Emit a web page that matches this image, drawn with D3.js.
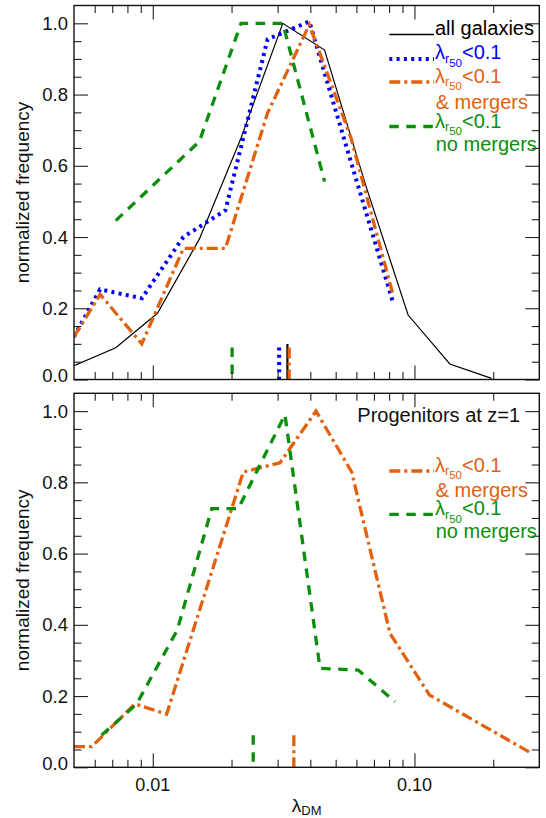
<!DOCTYPE html>
<html><head><meta charset="utf-8">
<script src="https://cdn.jsdelivr.net/npm/d3@7"></script>
<style>
html,body{margin:0;padding:0;background:#fff;}
svg{display:block;}
text{font-family:"Liberation Sans",Arial,Helvetica,sans-serif;}
</style></head><body>
<svg id="chart" width="546" height="818"></svg>
<script>
// ---------------- data ----------------
const xMajorTicks = [0.01, 0.1];
const xTickLabels = ["0.01", "0.10"];
const xMinorTicks = [0.006, 0.007, 0.008, 0.009, 0.02, 0.03, 0.04, 0.05, 0.06, 0.07, 0.08, 0.09, 0.2];
const yMajorTicks = [0, 0.2, 0.4, 0.6, 0.8, 1.0];
const yTickLabels = ["0.0", "0.2", "0.4", "0.6", "0.8", "1.0"];
const yMinorTicks = [0.05, 0.1, 0.15, 0.25, 0.3, 0.35, 0.45, 0.5, 0.55, 0.65, 0.7, 0.75, 0.85, 0.9, 0.95];

// top panel (z=0)
const topAllBins = [0.00500, 0.00722, 0.01042, 0.01506, 0.02174, 0.03139, 0.04535, 0.06546, 0.09458, 0.1365, 0.1971];
const topAll     = [0.039, 0.089, 0.186, 0.394, 0.678, 1.0, 0.925, 0.54, 0.181, 0.0435, 0.003];
const topLowBins = [0.00500, 0.00629, 0.00908, 0.01309, 0.01895, 0.02745, 0.03965, 0.05723, 0.08254];
const topLow     = [0.12, 0.253, 0.228, 0.40, 0.475, 0.955, 1.005, 0.61, 0.22];
const topMerg    = [0.12, 0.239, 0.10, 0.368, 0.368, 0.748, 0.996, 0.678, 0.242];
const topNoMergBins = [0.00722, 0.01042, 0.01506, 0.02174, 0.03139, 0.04535];
const topNoMerg     = [0.446, 0.557, 0.668, 1.0, 1.0, 0.556];
const topMeans = [0.0327, 0.0304, 0.0332, 0.0201]; // all, low, merg, nomerg

// bottom panel (progenitors at z=1)
const botMergBins = [0.00500, 0.00584, 0.00855, 0.0113, 0.02218, 0.03063, 0.04206, 0.05758, 0.08064, 0.1141, 0.2806];
const botMerg     = [0.058, 0.058, 0.178, 0.149, 0.829, 0.855, 1.0, 0.829, 0.376, 0.203, 0.039];
const botNoMergBins = [0.00638, 0.00868, 0.0124, 0.0168, 0.02122, 0.0320, 0.04356, 0.0610, 0.08427];
const botNoMerg     = [0.0906, 0.178, 0.385, 0.726, 0.726, 0.99, 0.278, 0.273, 0.184];
const botMeans = [0.0346, 0.0242]; // merg, nomerg

// ---------------- styles ----------------
const BLACK = "#000000", BLUE = "#0000ff", ORANGE = "#e2600e", GREEN = "#0b8f0b";
const styles = {
  all:    {color: BLACK,  width: 1.2, dash: null},
  low:    {color: BLUE,   width: 4,   dash: "3,4.3"},
  merg:   {color: ORANGE, width: 3.3, dash: "11,4,3,4"},
  nomerg: {color: GREEN,  width: 3.3, dash: "9.5,7.5"}
};

const svg = d3.select("#chart");
const x = d3.scaleLog().domain([0.005, 0.3]).range([74, 539.3]);
const X0 = 74, X1 = 539.3;

function zip(bins, vals) { return bins.map((b, i) => [b, vals[i]]); }

function drawPanel(idx, top, bottom, series, means, showXLabels) {
  const y = d3.scaleLinear().domain([0, 1.05]).range([bottom, top]);
  const g = svg.append("g");
  const clipId = "clip" + idx;
  svg.append("defs").append("clipPath").attr("id", clipId)
    .append("rect").attr("x", X0).attr("y", top).attr("width", X1 - X0).attr("height", bottom - top);
  const data = g.append("g").attr("clip-path", `url(#${clipId})`);
  const line = d3.line().x(d => x(d[0])).y(d => y(d[1]));

  series.forEach(s => {
    const st = styles[s.key];
    data.append("path").datum(zip(s.bins, s.vals))
      .attr("d", line).attr("fill", "none")
      .attr("stroke", st.color).attr("stroke-width", st.width)
      .attr("stroke-dasharray", st.dash)
      .attr("stroke-linejoin", "miter");
  });
  means.forEach(m => {
    const st = styles[m.key];
    data.append("line")
      .attr("x1", x(m.val)).attr("x2", x(m.val))
      .attr("y1", y(m.key === "all" ? 0.1 : 0.09)).attr("y2", y(0))
      .attr("stroke", st.color)
      .attr("stroke-width", m.key === "all" ? 2.2 : st.width)
      .attr("stroke-dasharray", st.dash);
  });

  // ticks via d3 axes (inward)
  const tickCol = "#222";
  function addAxis(axisGen, tx, ty) {
    const a = g.append("g").attr("transform", `translate(${tx},${ty})`).call(axisGen);
    a.select(".domain").remove();
    a.selectAll("line").attr("stroke", tickCol).attr("stroke-width", 1.1);
    a.selectAll("text").remove();
  }
  addAxis(d3.axisBottom(x).tickValues(xMajorTicks).tickSize(-14).tickFormat(""), 0, bottom);
  addAxis(d3.axisBottom(x).tickValues(xMinorTicks).tickSize(-7.5).tickFormat(""), 0, bottom);
  addAxis(d3.axisTop(x).tickValues(xMajorTicks).tickSize(-14).tickFormat(""), 0, top);
  addAxis(d3.axisTop(x).tickValues(xMinorTicks).tickSize(-7.5).tickFormat(""), 0, top);
  addAxis(d3.axisLeft(y).tickValues(yMajorTicks).tickSize(-14).tickFormat(""), X0, 0);
  addAxis(d3.axisLeft(y).tickValues(yMinorTicks).tickSize(-7.5).tickFormat(""), X0, 0);
  addAxis(d3.axisRight(y).tickValues(yMajorTicks).tickSize(-14).tickFormat(""), X1, 0);
  addAxis(d3.axisRight(y).tickValues(yMinorTicks).tickSize(-7.5).tickFormat(""), X1, 0);

  // frame
  g.append("rect").attr("x", X0).attr("y", top).attr("width", X1 - X0).attr("height", bottom - top)
    .attr("fill", "none").attr("stroke", "#111").attr("stroke-width", 1.4);

  // y tick labels
  g.selectAll(".ylab").data(yMajorTicks).enter().append("text")
    .attr("x", 68).attr("y", (d, i) => y(d) + 6.6 - (d === 0 ? 4 : 0))
    .attr("text-anchor", "end").style("font-size", "18.5px").attr("fill", "#111")
    .text((d, i) => yTickLabels[i]);

  // y axis title
  g.append("text")
    .attr("transform", `translate(29.3,${(top + bottom) / 2}) rotate(-90)`)
    .attr("text-anchor", "middle").style("font-size", "19px").attr("fill", "#111")
    .text("normalized frequency");

  if (showXLabels) {
    g.selectAll(".xlab").data(xMajorTicks).enter().append("text")
      .attr("x", d => x(d)).attr("y", 790.7)
      .attr("text-anchor", "middle").style("font-size", "18px").attr("fill", "#111")
      .text((d, i) => xTickLabels[i]);
    const t = g.append("text").attr("x", (X0 + X1) / 2).attr("y", 811.5)
      .attr("text-anchor", "middle").style("font-size", "19px").attr("fill", "#111");
    t.append("tspan").text("λ");
    t.append("tspan").attr("dy", 3).style("font-size", "13px").text("DM");
  }
  return g;
}

function legendLine(g, key, yPos) {
  const st = styles[key];
  g.append("line").attr("x1", 389.3).attr("x2", 434).attr("y1", yPos).attr("y2", yPos)
    .attr("stroke", st.color).attr("stroke-width", st.width === 1.2 ? 1.3 : st.width)
    .attr("stroke-dasharray", st.dash);
}
function lamText(g, xPos, yBase, color) {
  const t = g.append("text").attr("x", xPos).attr("y", yBase).attr("fill", color).style("font-size", "20px");
  t.append("tspan").text("λ");
  t.append("tspan").attr("dy", 3.5).style("font-size", "12.5px").text("r");
  t.append("tspan").attr("dy", 4).style("font-size", "11.5px").text("50");
  t.append("tspan").attr("dy", -7.5).text("<0.1");
}
function plainText(g, xPos, yBase, color, txt) {
  g.append("text").attr("x", xPos).attr("y", yBase).attr("fill", color).style("font-size", "20px").text(txt);
}

// top panel
const gTop = drawPanel(0, 5.5, 379.5, [
  {key: "all", bins: topAllBins, vals: topAll},
  {key: "low", bins: topLowBins, vals: topLow},
  {key: "merg", bins: topLowBins, vals: topMerg},
  {key: "nomerg", bins: topNoMergBins, vals: topNoMerg}
], [
  {key: "low", val: topMeans[1]},
  {key: "all", val: topMeans[0]},
  {key: "merg", val: topMeans[2]},
  {key: "nomerg", val: topMeans[3]}
], false);

legendLine(gTop, "all", 34.5);
plainText(gTop, 435, 35, BLACK, "all galaxies");
legendLine(gTop, "low", 59);
lamText(gTop, 435, 59.3, BLUE);
legendLine(gTop, "merg", 82);
lamText(gTop, 435, 82.5, ORANGE);
plainText(gTop, 435.7, 109, ORANGE, "& mergers");
legendLine(gTop, "nomerg", 126.5);
lamText(gTop, 435, 127.5, GREEN);
plainText(gTop, 435.7, 151, GREEN, "no mergers");

// bottom panel
const gBot = drawPanel(1, 393.3, 767.3, [
  {key: "merg", bins: botMergBins, vals: botMerg},
  {key: "nomerg", bins: botNoMergBins, vals: botNoMerg}
], [
  {key: "merg", val: botMeans[0]},
  {key: "nomerg", val: botMeans[1]}
], true);

plainText(gBot, 357.3, 422, "#111", "Progenitors at z=1");
legendLine(gBot, "merg", 471);
lamText(gBot, 435, 471.7, ORANGE);
plainText(gBot, 435.7, 496.7, ORANGE, "& mergers");
legendLine(gBot, "nomerg", 514.3);
lamText(gBot, 435, 515, GREEN);
plainText(gBot, 435.7, 537.5, GREEN, "no mergers");
</script>
</body></html>
